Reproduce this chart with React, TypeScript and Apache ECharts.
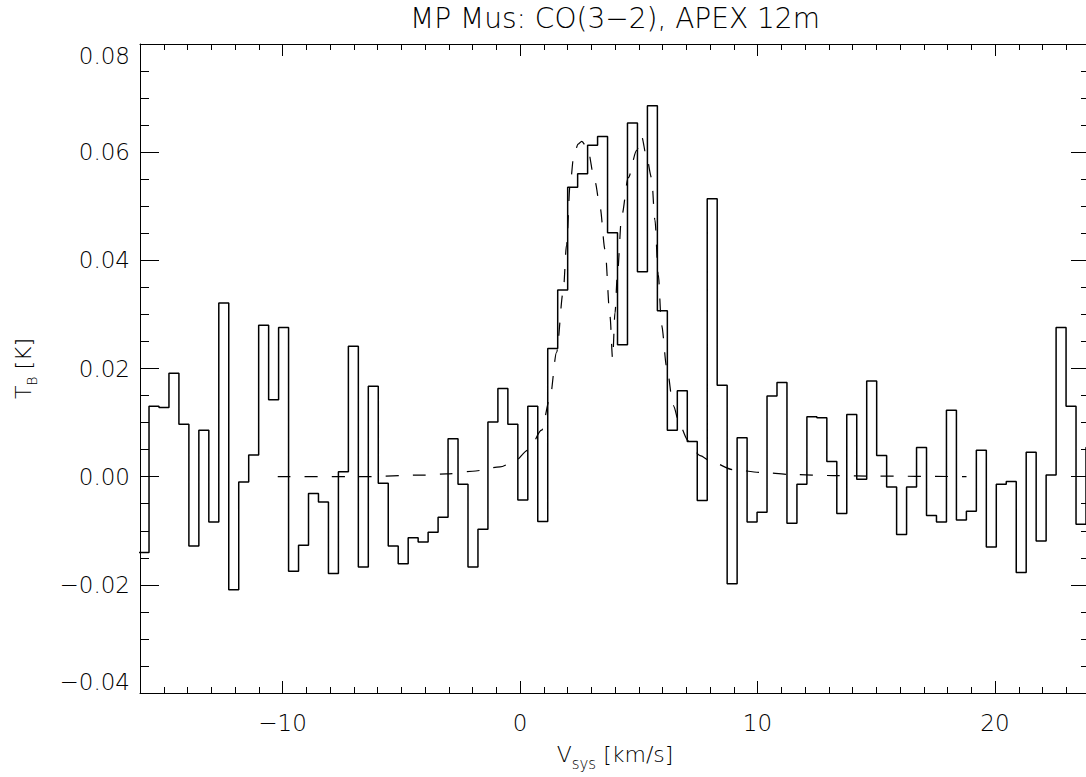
import React, { useEffect, useRef } from "react";
import * as echarts from "echarts";

const TITLE = "MP Mus: CO(3\u22122), APEX 12m";

const X_MIN = -16;
const X_MAX = 24;
const Y_MIN = -0.04;
const Y_MAX = 0.08;

// spectrometer channels (left edge of the first channel and channel width, km/s)
const FIRST_CHANNEL_LEFT_EDGE = -16.04;
const CHANNEL_WIDTH = 0.4197;

// brightness temperature per channel [K]
const spectrumTB = [
  -0.014, 0.013, 0.0128, 0.0191, 0.0097, -0.0128, 0.0086, -0.0084, 0.0321, -0.0209,
  -0.001, 0.004, 0.028, 0.0142, 0.0276, -0.0175, -0.0127, -0.0031, -0.0047, -0.0179,
  0.0009, 0.0241, -0.0167, 0.0167, -0.0012, -0.0128, -0.0161, -0.0113, -0.0121, -0.0103,
  -0.0075, 0.007, -0.0014, -0.0167, -0.0097, 0.0101, 0.0163, 0.0097, -0.0043, 0.013,
  -0.0083, 0.0237, 0.0345, 0.0535, 0.056, 0.0613, 0.0629, 0.0451, 0.0244, 0.0654,
  0.0379, 0.0686, 0.0307, 0.0086, 0.0159, 0.0065, -0.0044, 0.0514, 0.0169, -0.0198,
  0.0072, -0.0084, -0.0066, 0.0149, 0.0174, -0.0086, -0.0014, 0.0111, 0.0109, 0.0028,
  -0.0068, 0.0115, -0.0005, 0.0177, 0.0039, -0.0019, -0.0107, -0.0019, 0.0054, -0.0072,
  -0.0084, 0.0123, -0.008, -0.0064, 0.0049, -0.013, -0.0014, -0.0009, -0.0177, 0.0045,
  -0.0119, 0.0003, 0.0276, 0.013, -0.0088, 0.0054,
];

// model profile (dashed)
const modelV = [
  -10.2, -6.7, -4.0, -3.1, -2.0, -0.84, -0.28, 0.38, 0.91, 1.26, 1.54, 1.82, 1.96, 2.11,
  2.27, 2.45, 2.6, 2.84, 3.16, 3.37, 3.58, 3.79, 3.9, 4.0, 4.1, 4.28, 4.56, 4.91, 5.12,
  5.33, 5.54, 5.68, 5.82, 5.96, 6.18, 6.45, 6.74, 7.09, 7.58, 8.07, 8.98, 10.1, 11.4,
  13.2, 15.0, 18.8,
];
const modelTB = [
  0.0, 0.0, 0.0003, 0.0005, 0.001, 0.0018, 0.0027, 0.005, 0.0086, 0.0145, 0.023, 0.0342,
  0.0428, 0.054, 0.0595, 0.0615, 0.062, 0.0607, 0.0545, 0.0498, 0.042, 0.0296, 0.0218,
  0.0303, 0.0374, 0.0482, 0.0553, 0.0603, 0.0629, 0.0591, 0.0553, 0.0475, 0.0374, 0.028,
  0.0202, 0.0132, 0.0093, 0.0066, 0.0039, 0.0027, 0.0013, 0.0008, 0.0004, 0.0002, 0.0001,
  0.0,
];

const X_MAJOR_TICKS = [-10, 0, 10, 20];

const FONT = "'DejaVu Sans', sans-serif";
const FONT_WEIGHT = 200;
const BLACK = "#000";

function minusFmt(s: string): string {
  return s.replace("-", "\u2212");
}

export default function App() {
  const ref = useRef<HTMLDivElement>(null);

  useEffect(() => {
    if (!ref.current) return;
    const chart = echarts.init(ref.current, null, { renderer: "svg" });

    const histData: number[][] = spectrumTB.map((t, i) => [
      FIRST_CHANNEL_LEFT_EDGE + i * CHANNEL_WIDTH,
      t,
    ]);
    histData.push([
      FIRST_CHANNEL_LEFT_EDGE + spectrumTB.length * CHANNEL_WIDTH,
      spectrumTB[spectrumTB.length - 1],
    ]);
    const modelData = modelV.map((v, i) => [v, modelTB[i]]);

    const lineStyle = { color: BLACK, width: 1 };
    const textBase = { color: BLACK, fontFamily: FONT, fontWeight: FONT_WEIGHT };

    const xBase = {
      type: "value" as const,
      min: X_MIN,
      max: X_MAX,
      splitLine: { show: false },
    };

    const option: any = {
      animation: false,
      backgroundColor: "#fff",
      grid: { left: 140, top: 44, right: 10, bottom: 84, containLabel: false },
      graphic: [
        {
          type: "text",
          x: 615,
          y: 18,
          style: {
            text: TITLE,
            textAlign: "center",
            textVerticalAlign: "middle",
            fontSize: 28,
            fontFamily: FONT,
            fontWeight: FONT_WEIGHT,
            fill: BLACK,
          },
        },
      ],
      xAxis: [
        {
          ...xBase,
          position: "bottom",
          axisLine: { show: true, onZero: false, lineStyle },
          axisTick: {
            show: true,
            inside: true,
            length: 12,
            lineStyle,
            customValues: X_MAJOR_TICKS,
          },
          axisLabel: {
            show: true,
            margin: 18,
            fontSize: 23,
            ...textBase,
            customValues: X_MAJOR_TICKS,
            formatter: (v: number) => minusFmt(String(v)),
          },
          name: "{a|V}{b|sys}{a| [km/s]}",
          nameLocation: "middle",
          nameGap: 44,
          nameTextStyle: {
            ...textBase,
            rich: {
              a: { fontSize: 22, lineHeight: 32, verticalAlign: "middle", ...textBase },
              b: {
                fontSize: 15,
                lineHeight: 14,
                padding: [18, 0, 0, 0],
                verticalAlign: "top",
                ...textBase,
              },
            },
          },
        },
        {
          ...xBase,
          position: "bottom",
          interval: 1,
          axisLine: { show: false, onZero: false },
          axisTick: { show: true, inside: true, length: 6, lineStyle },
          axisLabel: { show: false },
        },
        {
          ...xBase,
          position: "top",
          axisLine: { show: true, onZero: false, lineStyle },
          axisTick: {
            show: true,
            inside: true,
            length: 12,
            lineStyle,
            customValues: X_MAJOR_TICKS,
          },
          axisLabel: { show: false },
        },
        {
          ...xBase,
          position: "top",
          interval: 1,
          axisLine: { show: false, onZero: false },
          axisTick: { show: true, inside: true, length: 6, lineStyle },
          axisLabel: { show: false },
        },
      ],
      yAxis: [
        {
          type: "value",
          min: Y_MIN,
          max: Y_MAX,
          interval: 0.02,
          position: "left",
          axisLine: { show: true, onZero: false, lineStyle },
          axisTick: { show: true, inside: true, length: 19, lineStyle },
          minorTick: { show: true, splitNumber: 4, length: 9, lineStyle },
          splitLine: { show: false },
          axisLabel: {
            show: true,
            margin: 10,
            fontSize: 23,
            ...textBase,
            verticalAlignMaxLabel: "top",
            verticalAlignMinLabel: "bottom",
            formatter: (v: number) => minusFmt(v.toFixed(2)),
          },
          name: "{a|T}{b|B}{a| [K]}",
          nameLocation: "middle",
          nameRotate: 90,
          nameGap: 102,
          nameTextStyle: {
            ...textBase,
            rich: {
              a: { fontSize: 22, lineHeight: 30, verticalAlign: "middle", ...textBase },
              b: {
                fontSize: 14,
                lineHeight: 14,
                padding: [17, 0, 0, 0],
                verticalAlign: "top",
                ...textBase,
              },
            },
          },
        },
        {
          type: "value",
          min: Y_MIN,
          max: Y_MAX,
          interval: 0.02,
          position: "right",
          axisLine: { show: true, onZero: false, lineStyle },
          axisTick: { show: true, inside: true, length: 19, lineStyle },
          minorTick: { show: true, splitNumber: 4, length: 9, lineStyle },
          splitLine: { show: false },
          axisLabel: { show: false },
        },
      ],
      series: [
        {
          type: "line",
          name: "model",
          xAxisIndex: 0,
          yAxisIndex: 0,
          data: modelData,
          symbol: "none",
          smooth: 0.3,
          smoothMonotone: "x",
          lineStyle: { color: BLACK, width: 1.2, type: [13, 14] },
          z: 2,
        },
        {
          type: "line",
          name: "spectrum",
          xAxisIndex: 0,
          yAxisIndex: 0,
          data: histData,
          step: "end",
          symbol: "none",
          lineStyle: { color: BLACK, width: 1.5 },
          z: 3,
        },
      ],
    };

    chart.setOption(option);
    return () => chart.dispose();
  }, []);

  return (
    <div
      style={{
        position: "fixed",
        left: 0,
        top: 0,
        width: 1086,
        height: 777,
        overflow: "hidden",
        background: "#fff",
      }}
    >
      <div ref={ref} style={{ width: 1100, height: 777 }} />
    </div>
  );
}
